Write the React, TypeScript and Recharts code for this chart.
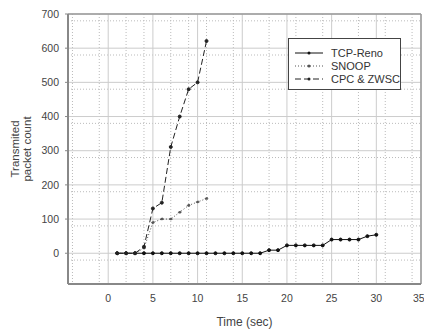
import { LineChart, Line, XAxis, YAxis, CartesianGrid, ReferenceLine } from 'recharts';

const times = [1, 2, 3, 4, 5, 6, 7, 8, 9, 10, 11, 12, 13, 14, 15, 16, 17, 18, 19, 20, 21, 22, 23, 24, 25, 26, 27, 28, 29, 30];
const tcpReno = [0, 0, 0, 0, 0, 0, 0, 0, 0, 0, 0, 0, 0, 0, 0, 0, 0, 9, 9, 23, 23, 23, 23, 23, 40, 40, 40, 40, 50, 54];
const snoop = [0, 0, 0, 15, 90, 100, 100, 120, 140, 150, 160];
const cpcZwsc = [0, 0, 0, 19, 131, 148, 311, 400, 480, 500, 621];

const xTicks = [0, 5, 10, 15, 20, 25, 30, 35];
const yTicks = [0, 100, 200, 300, 400, 500, 600, 700];
const xMinor = [-4, -3, -2, -1, 1, 2, 3, 4, 6, 7, 8, 9, 11, 12, 13, 14, 16, 17, 18, 19, 21, 22, 23, 24, 26, 27, 28, 29, 31, 32, 33, 34];
const yMinor = [-80, -60, -40, -20, 20, 40, 60, 80, 120, 140, 160, 180, 220, 240, 260, 280, 320, 340, 360, 380, 420, 440, 460, 480, 520, 540, 560, 580, 620, 640, 660, 680];

const data = times.map((t, i) => ({
  t,
  reno: tcpReno[i],
  snoop: i < snoop.length ? snoop[i] : undefined,
  cpc: i < cpcZwsc.length ? cpcZwsc[i] : undefined,
}));

const font = '"Liberation Sans", Arial, sans-serif';
const tickStyle = { fontSize: 10.5, fill: '#444', fontFamily: font };

const legendItems = [
  { name: 'TCP-Reno', dash: undefined, color: '#111' },
  { name: 'SNOOP', dash: '1 2', color: '#555' },
  { name: 'CPC & ZWSC', dash: '6 3', color: '#222' },
];

function LegendBox() {
  return (
    <div style={{ position: 'absolute', left: 288, top: 38, width: 113, height: 52, border: '1px solid #444', background: '#fff', padding: '7px 0 0 6px', boxSizing: 'border-box', fontFamily: font, fontSize: 11, color: '#333', whiteSpace: 'nowrap' }}>
      {legendItems.map((it) => (
        <div key={it.name} style={{ display: 'flex', alignItems: 'center', height: 13 }}>
          <svg width={28} height={8} style={{ marginRight: 8 }}>
            <line x1={0} y1={4} x2={28} y2={4} stroke={it.color} strokeWidth={1} strokeDasharray={it.dash} />
            <circle cx={14} cy={4} r={1.5} fill={it.color} />
          </svg>
          <span>{it.name}</span>
        </div>
      ))}
    </div>
  );
}

function YLabel() {
  const cy = 149;
  return (
    <g style={{ fontFamily: font, fontSize: 11.5 }}>
      <text x={19} y={cy} transform={`rotate(-90 19 ${cy})`} textAnchor="middle" fill="#444">Transmited</text>
      <text x={31} y={cy} transform={`rotate(-90 31 ${cy})`} textAnchor="middle" fill="#444">packet count</text>
    </g>
  );
}

export default function App() {
  return (
    <div style={{ position: 'absolute', left: 0, top: 0, width: 424, height: 330, background: '#fff' }}>
      <LineChart width={424} height={330} data={data} margin={{ top: 14, right: 3, left: 0, bottom: 16 }}>
        <CartesianGrid horizontalValues={yMinor} verticalValues={xMinor} stroke="#bbb" strokeDasharray="1 2" />
        <CartesianGrid horizontalValues={yTicks} verticalValues={xTicks} stroke="#ccc" />
        <XAxis
          dataKey="t"
          type="number"
          domain={[-4.5, 35]}
          ticks={xTicks}
          tick={tickStyle}
          tickSize={3}
          tickMargin={8}
          axisLine={{ stroke: '#888', strokeWidth: 2 }}
          tickLine={false}
          allowDataOverflow
          label={{ value: 'Time (sec)', position: 'bottom', offset: 3, style: { fontSize: 12, fill: '#444', fontFamily: font } }}
        />
        <YAxis
          type="number"
          width={68}
          domain={[-90, 700]}
          ticks={yTicks}
          tick={tickStyle}
          tickSize={3}
          tickMargin={6}
          axisLine={{ stroke: '#888', strokeWidth: 2 }}
          tickLine={{ stroke: '#888' }}
          allowDataOverflow
          label={<YLabel />}
        />
        <ReferenceLine y={700} stroke="#999" strokeWidth={1.5} />
        <ReferenceLine x={35} stroke="#999" strokeWidth={1.5} />
        <Line dataKey="reno" name="TCP-Reno" stroke="#111" strokeWidth={1} dot={{ r: 1.5, fill: '#111', stroke: '#111' }} isAnimationActive={false} />
        <Line dataKey="snoop" name="SNOOP" stroke="#555" strokeWidth={1} strokeDasharray="1 2" dot={{ r: 1.3, fill: '#555', stroke: '#555' }} isAnimationActive={false} />
        <Line dataKey="cpc" name="CPC & ZWSC" stroke="#222" strokeWidth={1} strokeDasharray="6 3" dot={{ r: 1.5, fill: '#222', stroke: '#222', strokeDasharray: '' }} isAnimationActive={false} />
      </LineChart>
      <LegendBox />
    </div>
  );
}
